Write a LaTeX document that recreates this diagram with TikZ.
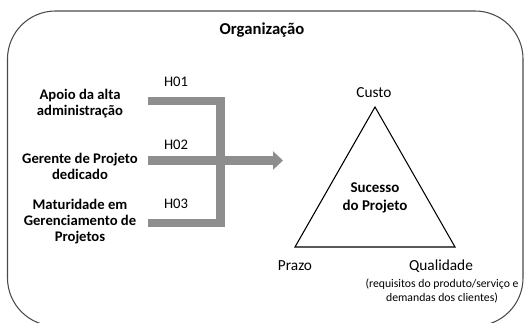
\documentclass[tikz,border=0pt]{standalone}
\usepackage{fontspec}
\setmainfont{Carlito}
\usetikzlibrary{arrows.meta}
\definecolor{bargray}{HTML}{8E8E8E}
\definecolor{framegray}{HTML}{4A4A4A}
\tikzset{
  lbl/.style={font=\fontsize{11}{12}\selectfont\bfseries, align=center, inner sep=0pt},
  hlbl/.style={font=\fontsize{11}{12}\selectfont, inner sep=0pt},
  vlbl/.style={font=\fontsize{11.5}{12}\selectfont, inner sep=0pt},
  small/.style={font=\fontsize{8.8}{10}\selectfont, align=center, inner sep=0pt},
  bar/.style={draw=bargray, line width=6.5pt, miter limit=10},
}
\begin{document}
\begin{tikzpicture}[x=0.75pt,y=-0.75pt]
\useasboundingbox (0,0) rectangle (524,323);
% frame
\draw[framegray, line width=0.8pt, rounded corners=36pt] (7.5,11) rectangle (523,326);
\node[font=\fontsize{12.5}{14}\selectfont\bfseries, inner sep=0pt] (title) at (262,30) {Organização};
% left labels
\node[lbl] (a1) at (80,104) {Apoio da alta\\administração};
\node[lbl] (a2) at (80,166) {Gerente de Projeto\\dedicado};
\node[lbl] (a3) at (80,222) {Maturidade em\\Gerenciamento de\\Projetos};
% hypothesis labels
\node[hlbl] (h1) at (176,82) {H01};
\node[hlbl] (h2) at (176,145) {H02};
\node[hlbl] (h3) at (176,204) {H03};
% bars
\coordinate (b1s) at (148,101);
\coordinate (b3s) at (148,223);
\coordinate (b2s) at (148,160.5);
\coordinate (b2e) at (283,160.5);
\draw[bar] (b1s) -| (220.5,223) -- (b3s);
\draw[bar, -{Triangle[length=7.5pt,width=13.5pt]}] (b2s) -- (b2e);
% triangle
\coordinate (tc) at (375,107);
\coordinate (tl) at (295,247);
\coordinate (tr) at (455,247);
\draw[black, line width=0.8pt, line join=miter] (tc) -- (tl) -- (tr) -- cycle;
\node[vlbl] (custo) at (374,93) {Custo};
\node[lbl, font=\fontsize{11.2}{13.5}\selectfont\bfseries] (suc) at (375,198) {Sucesso\\do Projeto};
\node[vlbl] (prazo) at (295,266) {Prazo};
\node[vlbl] (qual) at (441,266) {Qualidade};
\node[small] (req) at (442,291) {(requisitos do produto/serviço e\\demandas dos clientes)};
\end{tikzpicture}
\end{document}
